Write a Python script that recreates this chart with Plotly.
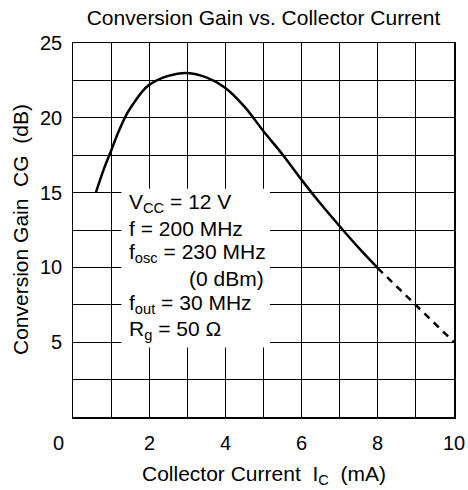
import plotly.graph_objects as go

# Measured curve (solid part)
ic_solid = [0.6, 0.8, 1.0, 1.2, 1.4, 1.6, 1.8, 2.0, 2.5, 3.0, 3.5, 4.0, 4.5, 5.0, 5.5, 6.0, 6.5, 7.0, 7.5, 8.0]
cg_solid = [15.0, 16.5, 17.8, 19.1, 20.2, 21.0, 21.7, 22.2, 22.8, 23.0, 22.7, 22.0, 20.75, 19.1, 17.55, 15.85, 14.25, 12.75, 11.3, 9.95]
# Extrapolated (dashed) part
ic_dash = [8.0, 9.0, 10.0]
cg_dash = [9.95, 7.45, 5.0]

x_ticks = [0, 2, 4, 6, 8, 10]
y_ticks = [5, 10, 15, 20, 25]

cond_lines = [
    "V<sub>CC</sub> = 12 V",
    "f = 200 MHz",
    "f<sub>osc</sub> = 230 MHz",
    "f<sub>out</sub> = 30 MHz",
    "R<sub>g</sub> = 50 Ω",
]
cond_y = [14.3, 12.63, 10.96, 7.55, 5.82]
extra_text = "(0 dBm)"
extra_y = 9.29

FONT = "Liberation Sans, Arial, Helvetica, sans-serif"
FS = 21
FT = 20

fig = go.Figure()
fig.add_trace(go.Scatter(x=ic_solid, y=cg_solid, mode="lines",
                         line=dict(color="black", width=2.5, shape="spline", smoothing=1.0),
                         showlegend=False, hoverinfo="skip"))
fig.add_trace(go.Scatter(x=ic_dash, y=cg_dash, mode="lines",
                         line=dict(color="black", width=2.5, dash="7px,6px"),
                         showlegend=False, hoverinfo="skip"))

ann = []
for v in x_ticks:
    ann.append(dict(x=v, xref="x", y=0, yref="paper", yshift=-26, xshift=(-15 if v == 0 else 0),
                    text=str(v), showarrow=False, xanchor="center", yanchor="middle",
                    font=dict(size=FT, color="black", family=FONT)))
for v in y_ticks:
    ann.append(dict(x=0, xref="paper", xshift=-9, y=v, yref="y",
                    text=str(v), showarrow=False, xanchor="right", yanchor="middle",
                    font=dict(size=FT, color="black", family=FONT)))
for t, yy in zip(cond_lines, cond_y):
    ann.append(dict(x=1.42, xref="x", y=yy, yref="y", text=t, showarrow=False,
                    xanchor="left", yanchor="middle", font=dict(size=FS, color="black", family=FONT)))
ann.append(dict(x=5.07, xref="x", y=extra_y, yref="y", text=extra_text, showarrow=False,
                xanchor="right", yanchor="middle", font=dict(size=FS, color="black", family=FONT)))
# axis titles
ann.append(dict(x=0.5, xref="paper", y=0, yref="paper", yshift=-58,
                text="Collector Current  I<sub>C</sub>  (mA)", showarrow=False,
                xanchor="center", yanchor="middle", font=dict(size=FS, color="black", family=FONT)))
ann.append(dict(x=0, xref="paper", xshift=-53, y=0.5, yref="paper", textangle=-90,
                text="Conversion Gain  CG  (dB)", showarrow=False,
                xanchor="center", yanchor="middle", font=dict(size=FS, color="black", family=FONT)))

fig.update_layout(
    width=468, height=490,
    margin=dict(l=73, r=14, t=43, b=73),
    paper_bgcolor="white", plot_bgcolor="white",
    title=dict(text="Conversion Gain vs. Collector Current", x=0.5, xref="paper",
               y=1 - 18 / 490, yref="container", xanchor="center", yanchor="middle",
               font=dict(size=FS, color="black", family=FONT)),
    xaxis=dict(range=[0, 10], dtick=1, showgrid=True, gridcolor="black", gridwidth=1,
               showticklabels=False, ticks="", zeroline=False,
               showline=True, linecolor="black", linewidth=1.5, mirror=True, fixedrange=True),
    yaxis=dict(range=[0, 25], dtick=2.5, showgrid=True, gridcolor="black", gridwidth=1,
               showticklabels=False, ticks="", zeroline=False,
               showline=True, linecolor="black", linewidth=1.5, mirror=True, fixedrange=True),
    shapes=[dict(type="rect", xref="x", yref="y", x0=1.27, x1=5.17, y0=4.65, y1=15.25,
                 fillcolor="white", line=dict(width=0), layer="above")],
    annotations=ann,
    showlegend=False,
)

fig.write_html("out.html", config={"displayModeBar": False, "staticPlot": True},
               post_script="document.body.style.margin='0';document.body.style.padding='0';document.body.style.overflow='hidden';")
